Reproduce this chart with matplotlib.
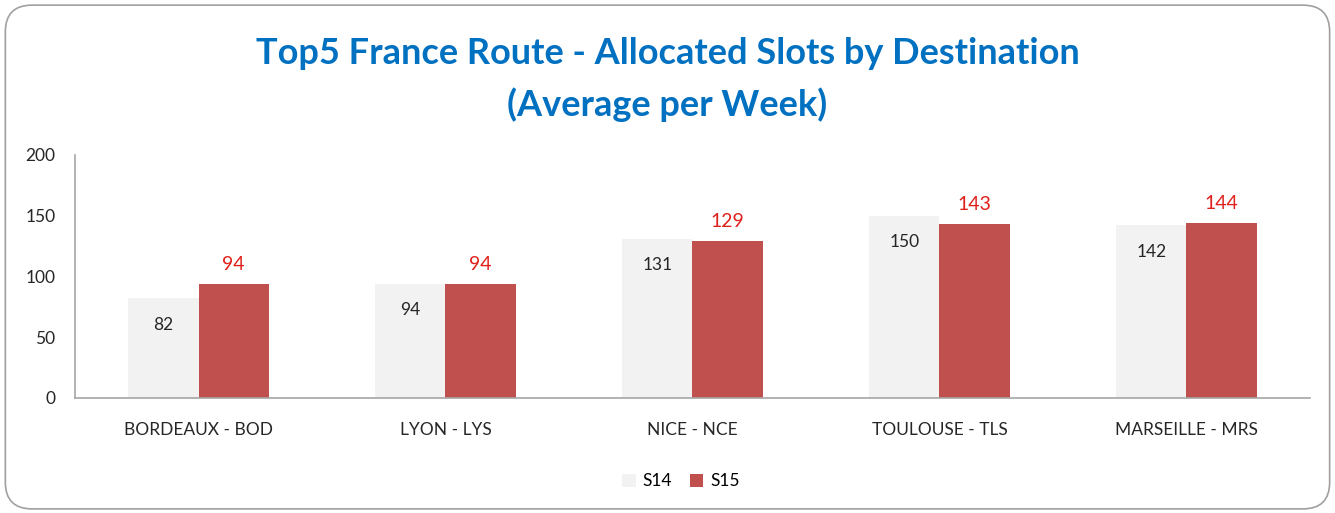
import matplotlib
matplotlib.use("Agg")
import matplotlib.pyplot as plt
import numpy as np
from matplotlib.patches import FancyBboxPatch

routes = ["BORDEAUX - BOD", "LYON - LYS", "NICE - NCE", "TOULOUSE - TLS", "MARSEILLE - MRS"]
s14 = [82, 94, 131, 150, 142]
s15 = [94, 94, 129, 143, 144]
yticks = [0, 50, 100, 150, 200]

plt.rcParams["font.family"] = ["Lato", "DejaVu Sans"]

fig = plt.figure(figsize=(13.35, 5.13), dpi=100)
frame = FancyBboxPatch((0.004, 0.008), 0.992, 0.982, boxstyle="round,pad=0,rounding_size=0.02",
                       transform=fig.transFigure, facecolor="white", edgecolor="#A0A0A0",
                       linewidth=1.2, mutation_aspect=1335 / 513, zorder=-10)
fig.patches.append(frame)

ax = fig.add_axes([0.0562, 0.2242, 0.925, 0.474])
ax.set_facecolor("none")
x = np.arange(len(routes))
w = 0.285
b1 = ax.bar(x - w / 2, s14, w, color="#F2F2F2", label="S14")
b2 = ax.bar(x + w / 2, s15, w, color="#C0504D", label="S15")

for rect, v in zip(b1, s14):
    ax.text(rect.get_x() + rect.get_width() / 2, v - 22, str(v), ha="center", va="center",
            fontsize=12.5, color="#262626")
for rect, v in zip(b2, s15):
    ax.text(rect.get_x() + rect.get_width() / 2, v + 9, str(v), ha="center", va="bottom",
            fontsize=14, color="#E0201B")

ax.set_xlim(-0.5, len(routes) - 0.5)
ax.set_ylim(0, 200)
ax.set_yticks(yticks)
ax.set_xticks(x)
ax.set_xticklabels(routes)
ax.tick_params(axis="both", length=0, labelsize=12.5, colors="#262626")
ax.tick_params(axis="y", pad=14)
ax.tick_params(axis="x", pad=17)
for s in ["top", "right"]:
    ax.spines[s].set_visible(False)
for s in ["left", "bottom"]:
    ax.spines[s].set_color("#A6A6A6")
    ax.spines[s].set_linewidth(1.2)

fig.text(0.5, 0.895, "Top5 France Route - Allocated Slots by Destination", ha="center", va="center",
         fontsize=26, fontweight="bold", color="#0070C0")
fig.text(0.5, 0.795, "(Average per Week)", ha="center", va="center",
         fontsize=26, fontweight="bold", color="#0070C0")

fig.legend(handles=[b1, b2], labels=["S14", "S15"], loc="center", bbox_to_anchor=(0.51, 0.062),
           ncol=2, frameon=False, fontsize=12.5, handlelength=0.8, handleheight=0.8,
           handletextpad=0.4, columnspacing=1.0)

fig.savefig("out.png", dpi=100)
